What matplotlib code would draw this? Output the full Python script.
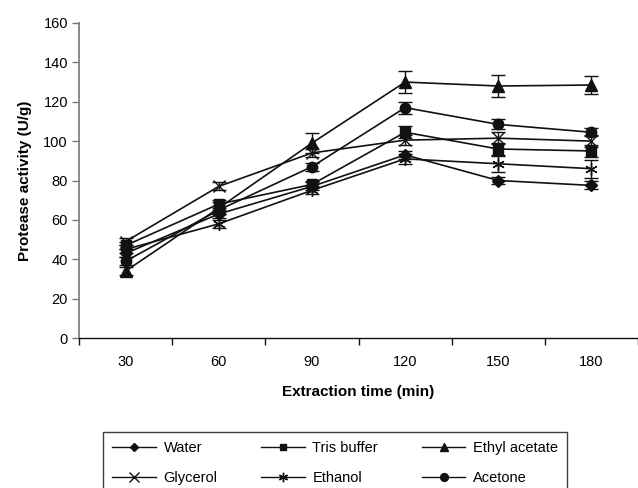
import numpy as np
import matplotlib
matplotlib.use('Agg')
import matplotlib.pyplot as plt
from matplotlib.lines import Line2D

plt.rcParams['font.family'] = ['Liberation Sans', 'DejaVu Sans']

# ---- data ----
times = [30, 60, 90, 120, 150, 180]

water = [43, 63, 77, 93, 80, 77.5]
tris = [47, 68, 78, 104.5, 96, 95]
ethyl = [34, 66, 99, 130, 128, 128.5]
glycerol = [49, 77, 94, 100.5, 101.5, 100]
ethanol = [45, 58, 75, 91, 88.5, 86]
acetone = [39, 65, 87, 117, 108.5, 104.5]

water_err = [2, 2, 2, 2, 2, 2]
tris_err = [2, 2, 2, 3, 3, 3]
ethyl_err = [2, 3, 5, 5.5, 5.5, 4.5]
glycerol_err = [2, 2, 2, 2.5, 3, 3]
ethanol_err = [2, 2, 2, 2.5, 4, 4.5]
acetone_err = [2, 2, 2, 3, 2.5, 2]

series = [
    ("Water", water, water_err, 'D', 6, 'full'),
    ("Tris buffer", tris, tris_err, 's', 6.5, 'full'),
    ("Ethyl acetate", ethyl, ethyl_err, '^', 8, 'full'),
    ("Glycerol", glycerol, glycerol_err, 'x', 9, 'none'),
    ("Ethanol", ethanol, ethanol_err, (6, 2, 0), 9, 'none'),
    ("Acetone", acetone, acetone_err, 'o', 7.5, 'full'),
]

ink = '#111111'

fig = plt.figure(figsize=(6.38, 4.88), dpi=100)
ax = fig.add_axes([79 / 638, 1 - 338 / 488, 1 - 79 / 638, (338 - 23) / 488])

xpos = np.arange(1, len(times) + 1)
handles = {}
for name, vals, err, mk, ms, fill in series:
    ax.errorbar(xpos, vals, yerr=err, color=ink, lw=1.2, marker=mk, ms=ms,
                mfc=ink, mec=ink, mew=1.0, capsize=5, elinewidth=1.0,
                capthick=1.0, clip_on=False)
    handles[name] = Line2D([], [], color=ink, lw=1.0, marker=mk,
                           ms=ms * 0.75, mfc=ink, mec=ink, mew=1.0)

ax.set_xlim(0.5, 6.38)
ax.set_ylim(0, 160)
ax.set_yticks(np.arange(0, 161, 20))
ax.set_xticks(xpos)
ax.set_xticklabels([str(t) for t in times])
ax.set_xticks(np.arange(0.5, 6.6, 1), minor=True)
ax.tick_params(axis='x', which='major', length=0, pad=12, labelsize=10.5)
ax.tick_params(axis='x', which='minor', length=5, width=1, color=ink)
ax.tick_params(axis='y', length=5, width=1, color='#777777', labelsize=10.5, pad=3)

for s in ['top', 'right']:
    ax.spines[s].set_visible(False)
ax.spines['left'].set_color('#777777')
ax.spines['left'].set_linewidth(1.2)
ax.spines['bottom'].set_color(ink)
ax.spines['bottom'].set_linewidth(1.0)

ax.set_xlabel("Extraction time (min)", fontsize=11, fontweight='bold', labelpad=12)
ax.set_ylabel("Protease activity (U/g)", fontsize=11, fontweight='bold', labelpad=8)

order = ["Water", "Glycerol", "Tris buffer", "Ethanol", "Ethyl acetate", "Acetone"]
leg = fig.legend([handles[n] for n in order], order, ncol=3,
                 loc='upper left', bbox_to_anchor=(103 / 638, 1 - 432 / 488),
                 frameon=True, fancybox=False, edgecolor=ink, fontsize=10.5,
                 handlelength=3.0, handletextpad=0.5, columnspacing=3.0,
                 labelspacing=1.05, borderpad=0.65, borderaxespad=0)
leg.get_frame().set_linewidth(1.0)

fig.savefig("out.png", dpi=100)
